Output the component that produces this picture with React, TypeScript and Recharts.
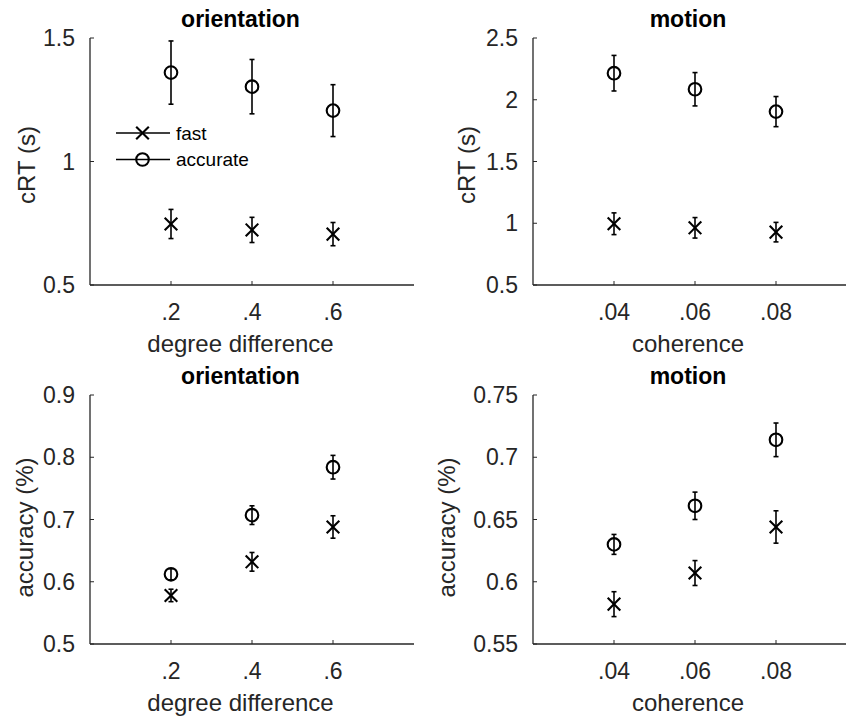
import React from 'react';
import { ScatterChart, Scatter, XAxis, YAxis, ErrorBar, Legend } from 'recharts';

// ---------- data ----------
const orientationLevels = [0.2, 0.4, 0.6];
const orientationTickLabels = ['.2', '.4', '.6'];
const coherenceLevels = [0.04, 0.06, 0.08];
const coherenceTickLabels = ['.04', '.06', '.08'];

const oriRtAccurate = [1.36, 1.303, 1.206];
const oriRtAccurateErr = [0.128, 0.11, 0.105];
const oriRtFast = [0.747, 0.723, 0.706];
const oriRtFastErr = [0.059, 0.051, 0.047];

const motRtAccurate = [2.215, 2.085, 1.904];
const motRtAccurateErr = [0.144, 0.135, 0.122];
const motRtFast = [0.996, 0.963, 0.928];
const motRtFastErr = [0.088, 0.083, 0.079];

const oriAccAccurate = [0.612, 0.707, 0.784];
const oriAccAccurateErr = [0.009, 0.015, 0.019];
const oriAccFast = [0.578, 0.632, 0.688];
const oriAccFastErr = [0.01, 0.015, 0.018];

const motAccAccurate = [0.63, 0.661, 0.714];
const motAccAccurateErr = [0.008, 0.011, 0.0135];
const motAccFast = [0.582, 0.607, 0.644];
const motAccFastErr = [0.01, 0.01, 0.013];

const rtOriTicks = [0.5, 1, 1.5];
const rtMotTicks = [0.5, 1, 1.5, 2, 2.5];
const accOriTicks = [0.5, 0.6, 0.7, 0.8, 0.9];
const accMotTicks = [0.55, 0.6, 0.65, 0.7, 0.75];

const seriesNames = ['fast', 'accurate'];

// ---------- style ----------
const FONT = '"Liberation Sans", Arial, Helvetica, sans-serif';
const AXIS = '#262626';
const TEXT = '#262626';
const MARK = '#000000';
const FS = 23;
const LFS = 24;
const YAXIS_W = 60;
const XAXIS_H = 60;

const CrossMark = (p: any) => {
  const { cx, cy } = p;
  if (cx == null || cy == null) return null;
  const s = 6.3;
  return (
    <g>
      <line x1={cx - s} y1={cy - s} x2={cx + s} y2={cy + s} stroke={MARK} strokeWidth={2.1} />
      <line x1={cx - s} y1={cy + s} x2={cx + s} y2={cy - s} stroke={MARK} strokeWidth={2.1} />
    </g>
  );
};

const CircleMark = (p: any) => {
  const { cx, cy } = p;
  if (cx == null || cy == null) return null;
  return <circle cx={cx} cy={cy} r={6.3} fill="none" stroke={MARK} strokeWidth={2.1} />;
};

const LegendBox = () => (
  <svg width={170} height={64} style={{ display: 'block', overflow: 'visible' }}>
    <g>
      <line x1={8} y1={21} x2={62} y2={21} stroke={MARK} strokeWidth={1.5} />
      <CrossMark cx={34.5} cy={21} />
      <text x={68} y={27.8} fontFamily={FONT} fontSize={19} fill="#000">{seriesNames[0]}</text>
    </g>
    <g>
      <line x1={8} y1={47.5} x2={62} y2={47.5} stroke={MARK} strokeWidth={1.5} />
      <CircleMark cx={34.5} cy={47.5} />
      <text x={68} y={54.3} fontFamily={FONT} fontSize={19} fill="#000">{seriesNames[1]}</text>
    </g>
  </svg>
);

type PanelProps = {
  left: number; top: number; width: number; height: number;
  margin: { top: number; right: number; bottom: number; left: number };
  xDomain: number[]; xTicks: number[]; xTickLabels: string[];
  yDomain: number[]; yTicks: number[];
  title: string; xLabel: string; yLabel: string;
  fast: number[]; fastErr: number[]; accurate: number[]; accurateErr: number[];
  showLegend?: boolean; titleDx: number; yLabelGap: number; yLabelDy: number;
};

const Panel = (props: PanelProps) => {
  const {
    left, top, width, height, margin, xDomain, xTicks, xTickLabels, yDomain, yTicks,
    title, xLabel, yLabel, fast, fastErr, accurate, accurateErr, showLegend, titleDx, yLabelGap, yLabelDy,
  } = props;
  const fastData = xTicks.map((x, i) => ({ x, y: fast[i], err: fastErr[i] }));
  const accData = xTicks.map((x, i) => ({ x, y: accurate[i], err: accurateErr[i] }));

  const plotLeft = margin.left + YAXIS_W;
  const plotRight = width - margin.right;
  const plotTop = margin.top;
  const plotBottom = height - margin.bottom - XAXIS_H;
  const plotCx = (plotLeft + plotRight) / 2 + titleDx;
  const plotCy = (plotTop + plotBottom) / 2 + yLabelDy;

  const xTick = (p: any) => {
    const idx = xTicks.indexOf(p.payload.value);
    return (
      <g>
        <line x1={p.x} y1={plotBottom} x2={p.x} y2={plotBottom - 4} stroke={AXIS} strokeWidth={1} />
        <text x={p.x} y={plotBottom + 35} textAnchor="middle" fontFamily={FONT} fontSize={FS} fill={TEXT}>
          {idx >= 0 ? xTickLabels[idx] : ''}
        </text>
      </g>
    );
  };
  const yTick = (p: any) => (
    <g>
      <line x1={plotLeft} y1={p.y} x2={plotLeft + 4} y2={p.y} stroke={AXIS} strokeWidth={1} />
      <text x={plotLeft - 15} y={p.y + 8.2} textAnchor="end" fontFamily={FONT} fontSize={FS} fill={TEXT}>
        {String(p.payload.value)}
      </text>
    </g>
  );

  const xLabelContent = () => (
    <g>
      <text x={plotCx} y={plotBottom + 67} textAnchor="middle" fontFamily={FONT} fontSize={LFS} fill={TEXT}>
        {xLabel}
      </text>
      <text x={plotCx} y={plotTop - 11.5} textAnchor="middle" fontFamily={FONT} fontSize={FS} fontWeight="bold" fill="#000">
        {title}
      </text>
    </g>
  );
  const yLabelContent = () => {
    const x = plotLeft - yLabelGap;
    return (
      <text x={x} y={plotCy} transform={`rotate(-90, ${x}, ${plotCy})`} textAnchor="middle" fontFamily={FONT} fontSize={LFS} fill={TEXT}>
        {yLabel}
      </text>
    );
  };

  return (
    <div style={{ position: 'absolute', left, top }}>
      <ScatterChart width={width} height={height} margin={margin}>
        <XAxis
          type="number" dataKey="x" domain={xDomain} ticks={xTicks} interval={0} allowDataOverflow
          height={XAXIS_H} tickSize={0} tickMargin={0} tickLine={false}
          axisLine={{ stroke: AXIS, strokeWidth: 1.3 }} tick={xTick}
          label={{ content: xLabelContent }}
        />
        <YAxis
          type="number" dataKey="y" domain={yDomain} ticks={yTicks} interval={0} allowDataOverflow
          width={YAXIS_W} tickSize={0} tickMargin={0} tickLine={false}
          axisLine={{ stroke: AXIS, strokeWidth: 1.3 }} tick={yTick}
          label={{ content: yLabelContent }}
        />
        <Scatter name={seriesNames[0]} data={fastData} shape={CrossMark} isAnimationActive={false}>
          <ErrorBar dataKey="err" direction="y" width={2.5} stroke={MARK} strokeWidth={1.6} isAnimationActive={false} />
        </Scatter>
        <Scatter name={seriesNames[1]} data={accData} shape={CircleMark} isAnimationActive={false}>
          <ErrorBar dataKey="err" direction="y" width={2.5} stroke={MARK} strokeWidth={1.6} isAnimationActive={false} />
        </Scatter>
        {showLegend ? (
          <Legend
            layout="horizontal" align="center" verticalAlign="middle"
            wrapperStyle={{ left: 108, top: 112, width: 170, height: 64 }}
            content={() => <LegendBox />}
          />
        ) : null}
      </ScatterChart>
    </div>
  );
};

export default function App() {
  return (
    <div style={{ position: 'absolute', left: 0, top: 0, width: 846, height: 721, overflow: 'hidden', background: '#fff', fontFamily: FONT }}>
      <Panel
        left={0} top={0} width={423} height={360}
        margin={{ top: 38, right: 9, bottom: 15, left: 30 }}
        xDomain={[0, 0.8]} xTicks={orientationLevels} xTickLabels={orientationTickLabels}
        yDomain={[0.5, 1.5]} yTicks={rtOriTicks}
        title="orientation" xLabel="degree difference" yLabel="cRT (s)"
        fast={oriRtFast} fastErr={oriRtFastErr} accurate={oriRtAccurate} accurateErr={oriRtAccurateErr}
        showLegend titleDx={-11.5} yLabelGap={55} yLabelDy={3.5}
      />
      <Panel
        left={423} top={0} width={434} height={360}
        margin={{ top: 38, right: 0, bottom: 15, left: 50 }}
        xDomain={[0.02, 0.1]} xTicks={coherenceLevels} xTickLabels={coherenceTickLabels}
        yDomain={[0.5, 2.5]} yTicks={rtMotTicks}
        title="motion" xLabel="coherence" yLabel="cRT (s)"
        fast={motRtFast} fastErr={motRtFastErr} accurate={motRtAccurate} accurateErr={motRtAccurateErr}
        titleDx={-7} yLabelGap={58} yLabelDy={3.5}
      />
      <Panel
        left={0} top={360} width={423} height={361}
        margin={{ top: 35, right: 9, bottom: 17, left: 30 }}
        xDomain={[0, 0.8]} xTicks={orientationLevels} xTickLabels={orientationTickLabels}
        yDomain={[0.5, 0.9]} yTicks={accOriTicks}
        title="orientation" xLabel="degree difference" yLabel="accuracy (%)"
        fast={oriAccFast} fastErr={oriAccFastErr} accurate={oriAccAccurate} accurateErr={oriAccAccurateErr}
        titleDx={-11.5} yLabelGap={57} yLabelDy={8}
      />
      <Panel
        left={423} top={360} width={434} height={361}
        margin={{ top: 35, right: 0, bottom: 17, left: 50 }}
        xDomain={[0.02, 0.1]} xTicks={coherenceLevels} xTickLabels={coherenceTickLabels}
        yDomain={[0.55, 0.75]} yTicks={accMotTicks}
        title="motion" xLabel="coherence" yLabel="accuracy (%)"
        fast={motAccFast} fastErr={motAccFastErr} accurate={motAccAccurate} accurateErr={motAccAccurateErr}
        titleDx={-7} yLabelGap={78} yLabelDy={8}
      />
    </div>
  );
}
